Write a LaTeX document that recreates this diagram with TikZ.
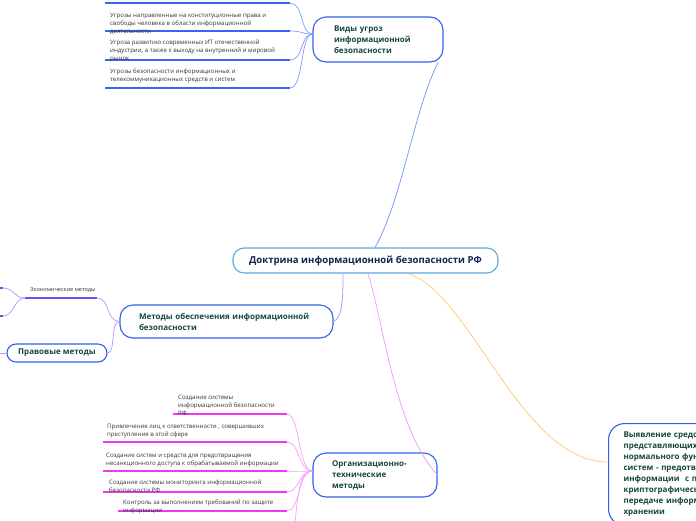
\documentclass[tikz,border=0pt]{standalone}
\usepackage{fontspec}
\setmainfont{Open Sans}
\usetikzlibrary{calc}
\definecolor{boxblue}{HTML}{3060F0}
\definecolor{cblue}{HTML}{5AAAE0}
\definecolor{navy}{HTML}{14234F}
\definecolor{dgreen}{HTML}{16483A}
\definecolor{lblue}{HTML}{7C9CFF}
\definecolor{leafblue}{HTML}{3A64F0}
\definecolor{lpurple}{HTML}{B595FF}
\definecolor{dpurple}{HTML}{7448F0}
\definecolor{lpink}{HTML}{F59CFF}
\definecolor{mag}{HTML}{EE3AEE}
\definecolor{orangel}{HTML}{FFCC7A}
\definecolor{leaftext}{HTML}{333333}
\begin{document}
\begin{tikzpicture}[x=1pt,y=-1pt,
  box/.style={draw=boxblue, line width=1.1pt, rounded corners=13pt, fill=white, text=dgreen,
    font=\bfseries\fontsize{8}{11}\selectfont, align=left, inner ysep=0pt},
  leaf/.style={anchor=north west, inner sep=0pt, align=left, text=leaftext,
    font=\fontsize{6.1}{8}\selectfont},
  leafline/.style={line width=1.4pt},
  twig/.style={line width=0.7pt}]
\useasboundingbox (0,0) rectangle (696,520);
\clip (0,0) rectangle (696,520);

% central node
\node[draw=cblue, line width=1.1pt, rounded corners=11pt, fill=white, text=navy,
  font=\bfseries\fontsize{9.6}{12}\selectfont, minimum width=265pt, minimum height=25pt,
  inner sep=0pt] (c) at (365.5,260.5) {Доктрина информационной безопасности РФ};

% branch nodes
\node[box, text width=88pt, inner xsep=21pt, minimum height=45pt] (v) at (378,39.5)
  {Виды угроз\\информационной\\безопасности};
\node[box, text width=175pt, inner xsep=19pt, minimum height=33pt] (m) at (226.5,321.5)
  {Методы обеспечения информационной\\безопасности};
\node[box, minimum width=100pt, minimum height=18pt, inner xsep=0pt, rounded corners=9pt,
  align=center] (p) at (57,353) {Правовые методы};
\node[box, text width=86pt, inner xsep=19pt, minimum height=44pt] (o) at (375,475)
  {Организационно-\\технические\\методы};
\node[box, anchor=north west, text width=180pt, inner xsep=15pt, inner ysep=8.5pt,
  rounded corners=16pt, font=\bfseries\fontsize{8}{11}\selectfont] (r) at (608,423)
  {Выявление средств,\\представляющих угрозу для\\нормального функционирования\\систем - предотвращение утечки\\информации\ \ с помощью\\криптографических средств при\\передаче информации и её\\хранении};

% main connectors
\draw[lblue, line width=0.8pt] ([xshift=9.5pt]c.north) .. controls (402,200) and (414,110) .. ([xshift=60pt]v.south);
\draw[lpurple, line width=0.8pt] ([xshift=-22.5pt]c.south) .. controls (343,295) and (343,318) .. (m.east);
\draw[lpink, line width=0.8pt] ([xshift=2.5pt]c.south) .. controls (383,320) and (395,430) .. (o.east);
\draw[orangel, line width=0.8pt] ([xshift=41.5pt]c.south) .. controls (470,290) and (520,462) .. ([yshift=-39pt]r.north west);

% threats leaves
\coordinate (vf) at ([yshift=5.5pt]v.west);
\foreach \i/\y in {1/3,2/31,3/60,4/88}{
  \coordinate (va\i) at (105,\y);
  \coordinate (vb\i) at (290,\y);
  \draw[leafblue, leafline] (va\i) -- (vb\i);
  \draw[lblue, twig] (vb\i) .. controls (304,\y) and (300,34) .. (vf);
}
\node[leaf] (t1) at (110,12.5) {Угрозы направленные на конституционные права и\\свободы человека в области информационной\\деятельности};
\node[leaf] (t2) at (110,39.5) {Угроза развитию современных ИТ отечественной\\индустрии, а также к выходу на внутренний и мировой\\рынок};
\node[leaf] (t3) at (110,68.5) {Угрозы безопасности информационных и\\телекоммуникационных средств и систем};

% methods leaves
\coordinate (e1) at (25,298);
\coordinate (e2) at (97,298);
\draw[dpurple, line width=2pt] (e1) -- (e2);
\node[leaf, font=\fontsize{5.6}{7}\selectfont] (et) at (30,287) {Экономические методы};
\draw[lpurple, twig] (e2) .. controls (110,298) and (106,321.5) .. (m.west);
\draw[lpurple, twig] (p.east) .. controls (116,353) and (110,321.5) .. (m.west);
\coordinate (x1) at (3,288); \coordinate (x1b) at (-3,288);
\coordinate (x2) at (3,316); \coordinate (x2b) at (-3,316);
\draw[lpurple, twig] (e1) .. controls (14,298) and (14,288) .. (x1);
\draw[lpurple, twig] (e1) .. controls (14,298) and (14,316) .. (x2);
\draw[dpurple, line width=2pt] (x1) -- (x1b);
\draw[dpurple, line width=2pt] (x2) -- (x2b);
\coordinate (pl) at (-3,353);
\draw[lpurple, line width=1pt] (p.west) -- (pl);

% organisational leaves
\coordinate (of) at ([yshift=4pt]o.west);
\foreach \i/\xa/\y in {1/173/414,2/103/442,3/103/471,4/103/492,5/118/511}{
  \coordinate (oa\i) at (\xa,\y);
  \coordinate (ob\i) at (287,\y);
  \draw[mag, leafline] (oa\i) -- (ob\i);
  \draw[lpink, twig] (ob\i) .. controls (300,\y) and (298,471) .. (of);
}
\coordinate (od) at (294,530);
\draw[lpink, twig] (of) .. controls (298,471) and (298,500) .. (od);
\node[leaf] (s1) at (178,394.5) {Создание системы\\информационной безопасности\\РФ};
\node[leaf] (s2) at (107,423.5) {Привлечение лиц к ответственности , совершивших\\преступления в этой сфере};
\node[leaf] (s3) at (106,452.5) {Создание систем и средств для предотвращения\\несанкционного доступа к обрабатываемой информации};
\node[leaf] (s4) at (109,479.5) {Создание системы мониторинга информационной\\безопасности РФ};
\node[leaf] (s5) at (123,499.5) {Контроль за выполнением требований по защите\\информации};
\end{tikzpicture}
\end{document}
